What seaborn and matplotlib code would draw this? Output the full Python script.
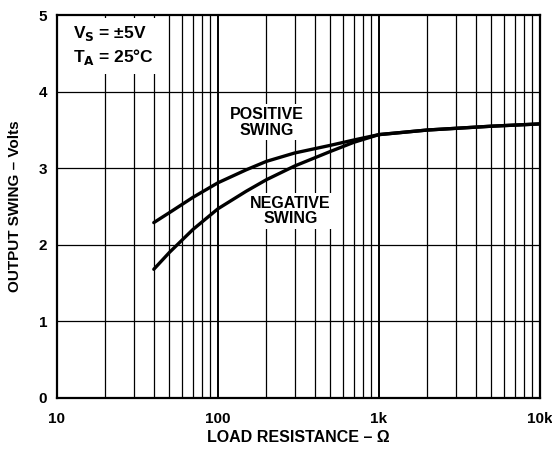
"""
Output swing vs load resistance, log x, two curves.
"""

# %% ---- Requirements and constants
import numpy as np
import pandas as pd
import matplotlib
matplotlib.use("Agg")
import matplotlib.pyplot as plt
import seaborn as sns
from matplotlib.ticker import FixedLocator, NullFormatter

load_ohm = [40, 50, 70, 100, 150, 200, 300, 500, 700, 1000, 2000, 5000, 10000]
positive_v = [2.29, 2.42, 2.62, 2.81, 2.98, 3.09, 3.20, 3.30, 3.37, 3.44, 3.50, 3.55, 3.58]
negative_v = [1.68, 1.90, 2.20, 2.47, 2.70, 2.85, 3.03, 3.22, 3.34, 3.44, 3.50, 3.55, 3.58]

x_ticks = [10, 100, 1000, 10000]
x_labels = ["10", "100", "1k", "10k"]
y_ticks = [0, 1, 2, 3, 4, 5]

df = pd.DataFrame({
    "load": load_ohm * 2,
    "swing": positive_v + negative_v,
    "curve": ["POSITIVE"] * len(load_ohm) + ["NEGATIVE"] * len(load_ohm),
})

# %% ---- Plot
sns.set_style("white")
plt.rcParams["font.family"] = ["Liberation Sans", "DejaVu Sans"]
plt.rcParams["font.weight"] = "bold"
plt.rcParams["text.color"] = "black"
plt.rcParams["axes.labelcolor"] = "black"
plt.rcParams["xtick.color"] = "black"
plt.rcParams["ytick.color"] = "black"

fig, ax = plt.subplots(figsize=(5.52, 4.49), dpi=100)
fig.subplots_adjust(left=0.103, right=0.978, top=0.966, bottom=0.114)

ax.set_xscale("log")
ax.set_xlim(10, 10000)
ax.set_ylim(0, 5)

minor = [m * 10 ** d for d in range(1, 4) for m in range(2, 10)]
for v in minor:
    ax.axvline(v, color="black", lw=0.9, zorder=1)
for v in x_ticks[1:-1]:
    ax.axvline(v, color="black", lw=1.4, zorder=1)
for v in y_ticks[1:-1]:
    ax.axhline(v, color="black", lw=0.9, zorder=1)

sns.lineplot(data=df, x="load", y="swing", hue="curve", palette=["black", "black"],
             linewidth=2.4, legend=False, ax=ax, zorder=3)

ax.xaxis.set_major_locator(FixedLocator(x_ticks))
ax.set_xticks(x_ticks, x_labels)
ax.xaxis.set_minor_formatter(NullFormatter())
ax.set_yticks(y_ticks)
ax.tick_params(axis="both", which="both", length=0, labelsize=11)
ax.tick_params(axis="x", pad=10)
ax.tick_params(axis="y", pad=7)
for lab in ax.get_xticklabels() + ax.get_yticklabels():
    lab.set_fontweight("bold")

for s in ax.spines.values():
    s.set_color("black")
    s.set_linewidth(1.6)

ax.set_xlabel("LOAD RESISTANCE – Ω", fontsize=11.5, fontweight="bold", labelpad=3)
ax.set_ylabel("OUTPUT SWING – Volts", fontsize=11, fontweight="bold", labelpad=12)

box = dict(facecolor="white", edgecolor="none", pad=2)
ax.text(201, 3.6, "POSITIVE\nSWING", ha="center", va="center", fontsize=11.5,
        fontweight="bold", bbox=box, zorder=4, linespacing=1.05)
ax.text(283, 2.44, "NEGATIVE\nSWING", ha="center", va="center", fontsize=11.5,
        fontweight="bold", bbox=box, zorder=4, linespacing=1.05)
ax.text(12.6, 4.6, "V$_\\mathbf{S}$ = ±5V\nT$_\\mathbf{A}$ = 25°C", ha="left", va="center",
        fontsize=12.5, fontweight="bold", zorder=4, linespacing=1.25,
        bbox=dict(facecolor="white", edgecolor="none", pad=5))

fig.savefig("out.png", dpi=100)
